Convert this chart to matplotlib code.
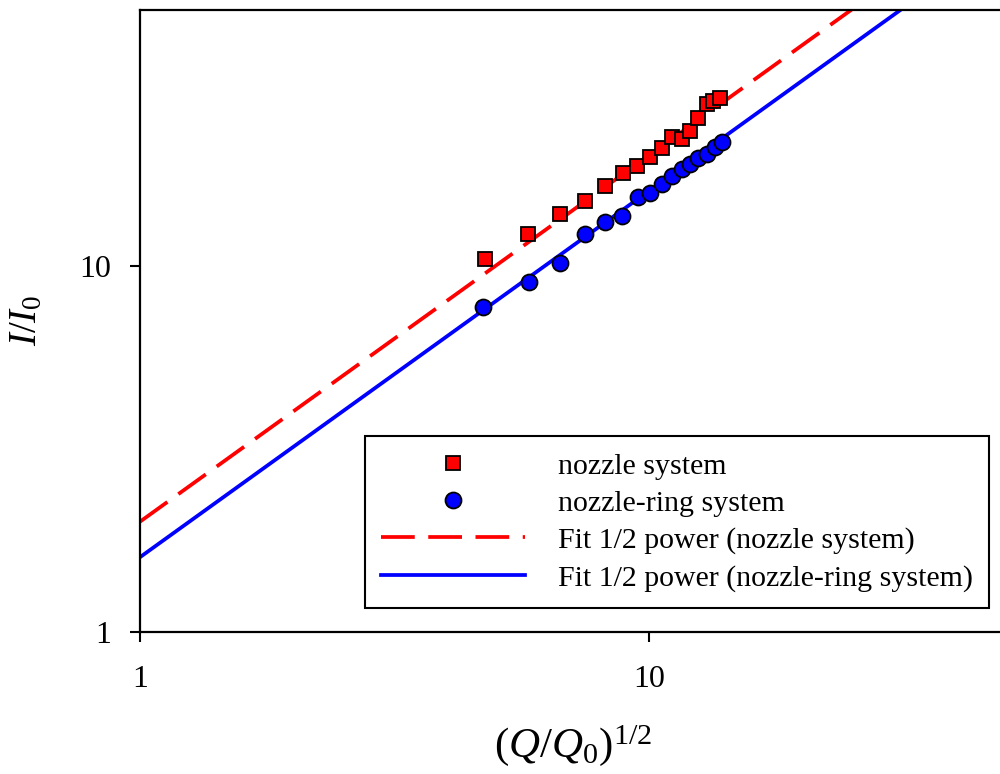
import numpy as np
import matplotlib.pyplot as plt
from matplotlib.ticker import FixedLocator, NullLocator

# 데이터: (Q/Q0)^1/2 vs I/I0
x_nozzle = [4.75, 5.79, 6.69, 7.49, 8.20, 8.88, 9.46, 10.05, 10.59, 11.08,
            11.59, 12.04, 12.50, 12.98, 13.36, 13.79]
y_nozzle = [10.43, 12.20, 13.83, 15.04, 16.52, 17.84, 18.73, 19.82, 20.88, 22.37,
            22.14, 23.33, 25.36, 27.58, 28.16, 28.70]

x_ring = [4.72, 5.81, 6.69, 7.49, 8.20, 8.84, 9.53, 10.05, 10.59, 11.08,
          11.59, 12.04, 12.50, 12.98, 13.48, 13.89]
y_ring = [7.70, 9.00, 10.15, 12.20, 13.12, 13.69, 15.42, 15.74, 16.70, 17.59,
          18.34, 18.93, 19.66, 20.16, 21.10, 21.68]

# 1/2 power fit coefficients
a_nozzle = 2.0
a_ring = 1.6

plt.rcParams['font.family'] = ['Liberation Serif', 'DejaVu Serif']
plt.rcParams['mathtext.fontset'] = 'custom'
plt.rcParams['mathtext.rm'] = 'Liberation Serif'
plt.rcParams['mathtext.it'] = 'Liberation Serif:italic'

fig = plt.figure(figsize=(10, 7.74), dpi=100)
ax = fig.add_axes([0.14, 0.1835, 0.865, 0.8042])

xf = np.array([1, 50])
ax.plot(x_nozzle, y_nozzle, 's', color='red', mec='black', mew=1.3, ms=10,
        label='nozzle system', zorder=3)
ax.plot(x_ring, y_ring, 'o', color='blue', mec='black', mew=1.3, ms=11.5,
        label='nozzle-ring system', zorder=3)
ax.plot(xf, a_nozzle * xf, color='red', lw=2.7, dashes=(9, 3.6),
        label='Fit 1/2 power (nozzle system)')
ax.plot(xf, a_ring * xf, color='blue', lw=2.7,
        label='Fit 1/2 power (nozzle-ring system)')

ax.set_xscale('log')
ax.set_yscale('log')
ax.set_xlim(1, 50)
ax.set_ylim(1, 50)

ax.xaxis.set_major_locator(FixedLocator([1, 10]))
ax.yaxis.set_major_locator(FixedLocator([1, 10]))
ax.xaxis.set_minor_locator(NullLocator())
ax.yaxis.set_minor_locator(NullLocator())
ax.set_xticklabels(['1', '10'])
ax.set_yticklabels(['1', '10'])
ax.tick_params(direction='out', length=7, width=1.5, labelsize=23)
ax.tick_params(axis='y', pad=14)
ax.tick_params(axis='x', pad=17)

for s in ax.spines.values():
    s.set_linewidth(1.6)

ax.set_xlabel(r'$(Q/Q_0)^{1/2}$', fontsize=31, labelpad=21)
ax.set_ylabel(r'$I/I_0$', fontsize=28, labelpad=24)

leg = ax.legend(loc='lower right', bbox_to_anchor=(0.9815, 0.0386), fontsize=21.5,
                handlelength=4.8, labelspacing=0.34, handletextpad=1.1,
                borderpad=0.55, borderaxespad=0, fancybox=False, framealpha=1,
                edgecolor='black')
leg.get_frame().set_linewidth(1.5)

plt.savefig('out.png', dpi=100)
